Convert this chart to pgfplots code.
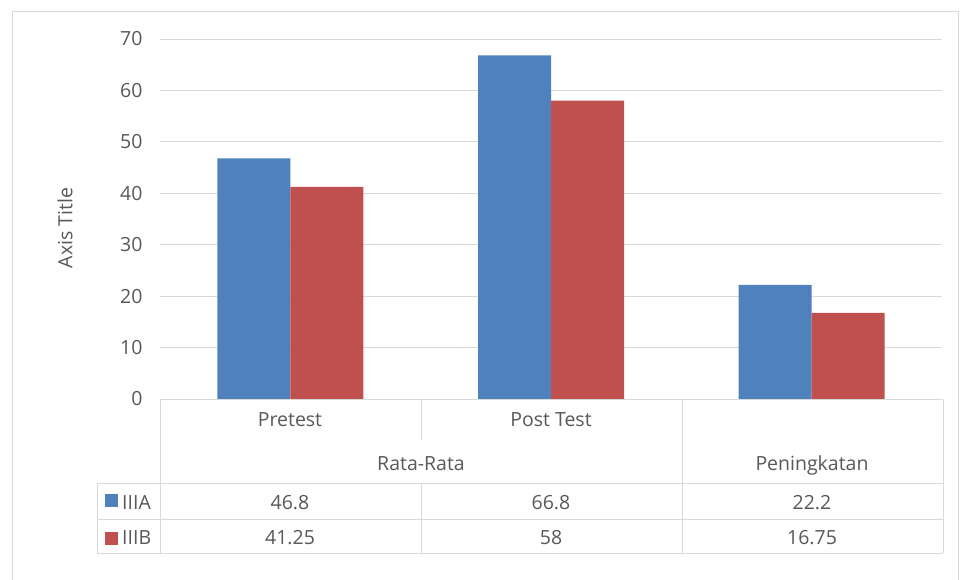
\documentclass[border=0pt]{standalone}
\usepackage{fontspec}
\setmainfont{Open Sans}
\usepackage{pgfplots}
\pgfplotsset{compat=1.18}
\definecolor{serA}{HTML}{4F81BD}
\definecolor{serB}{HTML}{C0504D}
\definecolor{gridc}{HTML}{D9D9D9}
\definecolor{txt}{HTML}{595959}
\begin{document}
\begin{tikzpicture}[x=1bp,y=1bp,font=\fontsize{19.5bp}{23bp}\selectfont]
\useasboundingbox (0,0) rectangle (962,580);
\fill[white] (0,0) rectangle (962,580);
\draw[gridc,line width=1bp] (12,0) -- (12,568) -- (958,568) -- (958,0);
\begin{axis}[
  at={(160bp,181bp)}, anchor=south west,
  scale only axis, width=782bp, height=360bp,
  xmin=0, xmax=3, ymin=0, ymax=70,
  ytick={0,10,...,70}, xtick=\empty,
  ymajorgrids, grid style={gridc, line width=0.8bp},
  axis lines*=left,
  y axis line style={draw=none},
  x axis line style={gridc, line width=0.8bp},
  ytick style={draw=none},
  tick label style={font=\fontsize{19.5bp}{23bp}\selectfont, text=txt},
  yticklabel style={xshift=-14bp},
  /pgf/number format/assume math mode=true,
  ybar=0pt, bar width=73bp,
  clip=false,
]
\addplot[fill=serA, draw=none] coordinates {(0.5,46.8) (1.5,66.8) (2.5,22.2)};
\addplot[fill=serB, draw=none] coordinates {(0.5,41.25) (1.5,58) (2.5,16.75)};
\end{axis}
% data table grid
\begin{scope}[gridc, line width=0.8bp]
\draw (160,181) -- (160,27);
\draw (421,181) -- (421,140);
\draw (421,97) -- (421,27);
\draw (682,181) -- (682,27);
\draw (943,181) -- (943,27);
\draw (97,97) -- (943,97);
\draw (97,61) -- (943,61);
\draw (97,27) -- (943,27);
\draw (97,97) -- (97,27);
\end{scope}
\begin{scope}[every node/.style={text=txt, anchor=base, inner sep=0pt}]
\node at (290,153.3) {Pretest};
\node at (551,153.3) {Post Test};
\node at (421,109.3) {Rata-Rata};
\node at (812,109.3) {Peningkatan};
\node at (290,70.7) {46.8};
\node at (551,70.7) {66.8};
\node at (812,70.7) {22.2};
\node at (290,35) {41.25};
\node at (551,35) {58};
\node at (812,35) {16.75};
\node[anchor=base west] at (122,70.7) {IIIA};
\node[anchor=base west] at (122,35) {IIIB};
\end{scope}
\fill[serA] (105,73) rectangle (118,86);
\fill[serB] (105,35) rectangle (118,48);
\node[rotate=90, text=txt] at (65,352) {Axis Title};
\end{tikzpicture}
\end{document}
